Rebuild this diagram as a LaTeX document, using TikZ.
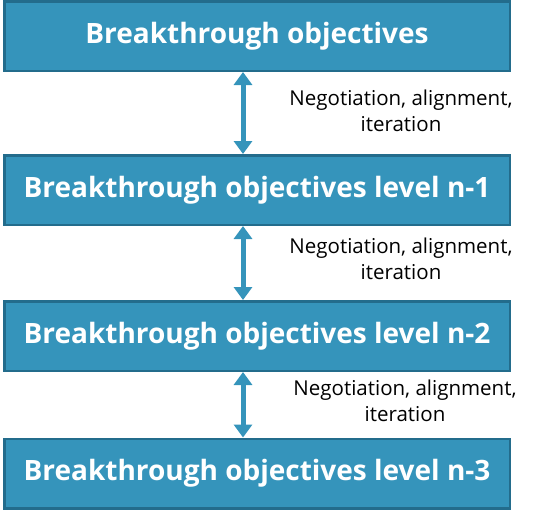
\documentclass[tikz,border=0pt]{standalone}
\usepackage{fontspec}
\setmainfont{Open Sans}
\usetikzlibrary{arrows.meta}
\definecolor{colorBO}{RGB}{53,148,187}
\definecolor{colorBD}{RGB}{35,108,140}
\tikzset{
   every path/.style={>={Triangle[width=18pt,length=13pt]}},
   bo/.style={draw=colorBD,fill=colorBO,line width=2.5pt,minimum width=505.5pt,minimum height=69.5pt,text=white,font=\fontsize{28}{32}\selectfont\bfseries},
   neg/.style={align=center,font=\fontsize{20.5}{26}\selectfont},
   nego/.style={<->,color=colorBO,line width=5pt},
}

\begin{document}
\begin{tikzpicture}[x=1pt,y=-1pt]

        \useasboundingbox (0,0) rectangle (534,514);

        \node[bo] (bo0) at (257,  36) {Breakthrough objectives};
        \node[bo] (bo1) at (257, 190) {Breakthrough objectives level n-1};
        \node[bo] (bo2) at (257, 336) {Breakthrough objectives level n-2};
        \node[bo] (bo3) at (257, 473.5) {Breakthrough objectives level n-3};

        \node[neg] (n1) at (401, 111) {Negotiation, alignment,\\iteration};
        \node[neg] (n2) at (401, 259) {Negotiation, alignment,\\iteration};
        \node[neg] (n3) at (405, 401) {Negotiation, alignment,\\iteration};

        \draw[nego] ([xshift=-14pt]bo0.south) -- ([xshift=-14pt]bo1.north);
        \draw[nego] ([xshift=-14pt]bo1.south) -- ([xshift=-14pt]bo2.north);
        \draw[nego] ([xshift=-14pt]bo2.south) -- ([xshift=-14pt]bo3.north);

      \end{tikzpicture}
\end{document}
